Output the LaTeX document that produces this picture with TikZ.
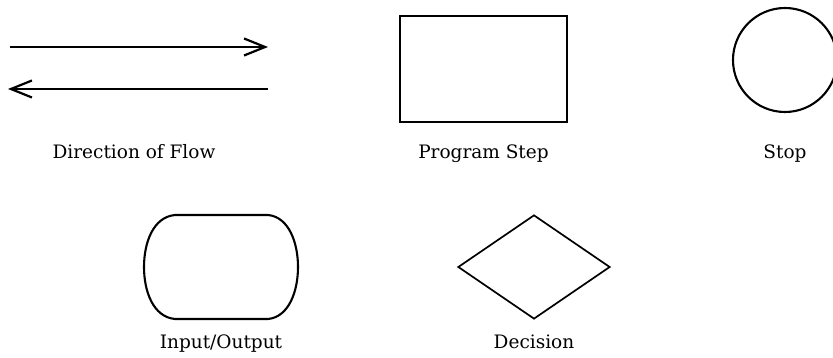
\documentclass[tikz,border=0pt]{standalone}
\usepackage{fontspec}
\setmainfont{DejaVu Serif}
\usetikzlibrary{arrows.meta,shapes.geometric}
\tikzset{fcshape/.style={draw,line width=2.1pt,inner sep=0pt},
 fcline/.style={line width=2.1pt,line join=round},
 fcarr/.style={-{Straight Barb[length=21pt,width=17pt]},line width=2.2pt},
 fclabel/.style={anchor=base,inner sep=0pt,font=\fontsize{18.5}{22}\selectfont}}

\begin{document}
\begin{tikzpicture}[x=1pt,y=-1pt]
\useasboundingbox (0,0) rectangle (833,358);
% direction of flow
\coordinate (fwdstart) at (10,47);
\coordinate (fwdend) at (268,47);
\coordinate (backstart) at (268,89);
\coordinate (backend) at (8,89);
\draw[fcarr] (fwdstart)--(fwdend);
\draw[fcarr] (backstart)--(backend);
\node[fclabel] (flow) at (134,159) {Direction of Flow};
% program step and stop
\node[fcshape,minimum width=167pt,minimum height=106pt] (prog) at (483.5,69) {};
\node[fclabel] (proglbl) at (483.5,159) {Program Step};
\node[fcshape,circle,minimum size=104pt] (stop) at (785,60) {};
\node[fclabel] (stoplbl) at (785,159) {Stop};
% input/output, drawn round its centre
\coordinate (io) at (221,267);
\draw[fcline,shift={(io)}] (-46,-52) -- (47,-52)
 .. controls (68,-50) and (77,-24) .. (77,0)
 .. controls (77,24) and (68,50) .. (47,52) -- (-46,52)
 .. controls (-68,50) and (-77,24) .. (-77,0)
 .. controls (-77,-24) and (-68,-50) .. (-46,-52) -- cycle;
\node[fclabel] (iolbl) at (io |- 0,348) {Input/Output};
% decision
\node[fcshape,diamond,line width=1.7pt,minimum width=152pt,minimum height=104pt] (dec) at (534,267) {};
\node[fclabel] (declbl) at (534,348) {Decision};
\end{tikzpicture}
\end{document}
